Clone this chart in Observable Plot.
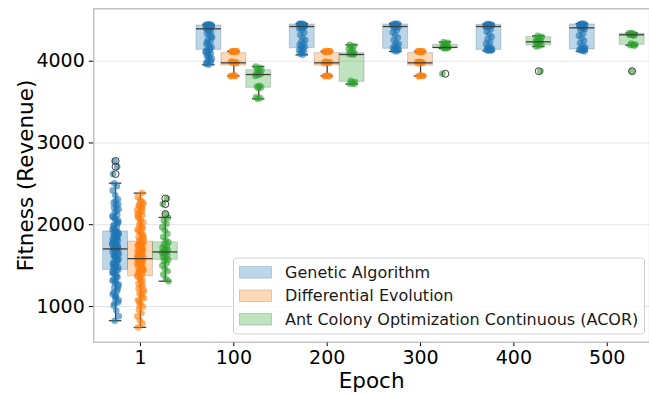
<!DOCTYPE html>
<html><head><meta charset="utf-8">
<script src="https://cdn.jsdelivr.net/npm/d3@7"></script>
<script src="https://cdn.jsdelivr.net/npm/@observablehq/plot@0.6"></script>
<style>
html,body{margin:0;padding:0;background:#fff;overflow:hidden}
#chart svg{display:block;font-family:"DejaVu Sans",sans-serif}
#chart [aria-label="y-axis label"] text,#chart [aria-label="x-axis label"] text{font-size:21.5px}
</style></head><body><div id="chart"></div>
<script>
// ---- categories ----
const epochs = ["1", "100", "200", "300", "400", "500"];
const algorithms = ["Genetic Algorithm", "Differential Evolution", "Ant Colony Optimization Continuous (ACOR)"];
const colors = ["#1f77b4", "#ff7f0e", "#2ca02c"];
const yTicks = [1000, 2000, 3000, 4000];

// ---- box statistics per epoch: [lowWhisker, q1, median, q3, highWhisker] ----
const gaBox = [
  [826, 1447, 1704, 1918, 2508],
  [3956, 4139, 4396, 4437, 4450],
  [4078, 4159, 4424, 4449, 4460],
  [4119, 4152, 4424, 4449, 4460],
  [4127, 4139, 4424, 4445, 4455],
  [4122, 4143, 4408, 4449, 4460]
];
const deBox = [
  [744, 1370, 1585, 1793, 2387],
  [3820, 3947, 3980, 4098, 4120],
  [3820, 3947, 3980, 4098, 4120],
  [3820, 3947, 3980, 4098, 4120],
  null,
  null
];
const acorBox = [
  [1309, 1570, 1667, 1784, 2089],
  [3540, 3675, 3837, 3890, 3935],
  [3720, 3748, 4082, 4098, 4200],
  [4155, 4164, 4168, 4200, 4235],
  [4180, 4192, 4237, 4294, 4310],
  [4195, 4200, 4323, 4335, 4345]
];

// ---- outliers per epoch ----
const gaOutliers = [[2620, 2710, 2780], [], [], [], [], []];
const deOutliers = [[], [], [], [], [], []];
const acorOutliers = [[2130, 2252, 2321], [], [], [3846], [3878], [3878]];

// ---- individual fitness values per epoch (non-outliers) ----
const gaPoints = [
  [826, 880, 950, 1010, 1050, 1100, 1150, 1190, 1230, 1270, 1300, 1330, 1360, 1390, 1420, 1440,
   1460, 1480, 1500, 1520, 1540, 1560, 1580, 1600, 1620, 1640, 1655, 1670, 1680, 1690, 1700, 1705,
   1715, 1730, 1745, 1760, 1775, 1790, 1805, 1820, 1835, 1850, 1865, 1880, 1890, 1900, 1910, 1918,
   1940, 1970, 2000, 2030, 2060, 2090, 2120, 2150, 2190, 2230, 2270, 2310, 2360, 2420, 2470, 2508,
   1250, 1350, 1480, 1560, 1620, 1760, 1840, 1950, 2050, 1120, 1410, 1690,
   1035, 1075, 1125, 1170, 1210, 1285, 1315, 1375, 1405, 1450, 1490, 1530, 1570, 1610, 1645, 1665,
   1710, 1740, 1770, 1800, 1830, 1860, 1895, 1925, 1985, 2015, 2075, 2105, 2170, 2210, 2250, 2290],
  [3956, 3970, 3990, 4010, 4030, 4050, 4070, 4090, 4105, 4120, 4135, 4150, 4170, 4190, 4215, 4240,
   4265, 4290, 4315, 4340, 4360, 4380, 4396, 4405, 4412, 4418, 4422, 4426, 4430, 4433, 4436, 4438,
   4440, 4442, 4444, 4446, 4448, 4450, 4425, 4415, 3980, 4000, 4060, 4110, 4160, 4230, 4300, 4370],
  [4078, 4090, 4105, 4120, 4135, 4150, 4160, 4175, 4190, 4205, 4220, 4240, 4260, 4290, 4320, 4350,
   4380, 4400, 4415, 4424, 4430, 4435, 4440, 4444, 4448, 4452, 4456, 4460, 4438, 4445, 4450, 4420, 4410],
  [4119, 4128, 4138, 4150, 4160, 4175, 4190, 4210, 4230, 4260, 4290, 4320, 4350, 4380, 4400, 4415,
   4424, 4430, 4436, 4440, 4444, 4448, 4452, 4456, 4460, 4445, 4435, 4150, 4140, 4420],
  [4127, 4132, 4138, 4145, 4155, 4170, 4190, 4215, 4240, 4270, 4300, 4330, 4360, 4390, 4410, 4424,
   4430, 4436, 4440, 4444, 4448, 4452, 4455, 4440, 4435, 4135, 4142, 4150, 4420, 4428],
  [4122, 4130, 4138, 4145, 4155, 4170, 4195, 4220, 4250, 4280, 4310, 4340, 4370, 4395, 4408, 4418,
   4428, 4436, 4442, 4447, 4452, 4456, 4460, 4440, 4130, 4140, 4150, 4415, 4445, 4400]
];
const dePoints = [
  [744, 790, 830, 880, 920, 960, 1000, 1040, 1080, 1120, 1160, 1200, 1240, 1280, 1320, 1350,
   1380, 1400, 1420, 1440, 1460, 1480, 1500, 1515, 1530, 1545, 1555, 1565, 1575, 1580, 1585, 1590,
   1600, 1615, 1630, 1645, 1660, 1675, 1690, 1705, 1720, 1735, 1750, 1765, 1780, 1793,
   1820, 1850, 1880, 1910, 1940, 1970, 2000, 2030, 2060, 2090, 2120, 2150, 2180, 2210, 2240, 2270,
   2300, 2340, 2387, 1060, 1180, 1300, 1410, 1470, 1520, 1610, 1700, 1760, 1860, 1990, 2100, 2200,
   1010, 1100, 1140, 1220, 1260, 1335, 1365, 1390, 1430, 1450, 1490, 1510, 1540, 1560, 1595, 1620,
   1655, 1685, 1715, 1745, 1775, 1805, 1835, 1895, 1925, 1955, 2045, 2135, 2165, 2225, 2255, 2285],
  [4125, 4120, 4118, 4115, 4122, 4112, 4120, 4117, 3995, 3990, 3985, 3992, 3980, 3988, 3975, 3983,
   3822, 3818, 3820, 3815, 3824],
  [4124, 4121, 4116, 4114, 4120, 4113, 4119, 4118, 3996, 3989, 3984, 3991, 3979, 3987, 3976, 3982,
   3821, 3817, 3823, 3816, 3820],
  [4123, 4119, 4117, 4115, 4121, 4111, 4122, 4116, 3994, 3991, 3986, 3990, 3981, 3989, 3974, 3984,
   3820, 3819, 3822, 3816, 3823],
  [],
  []
];
const acorPoints = [
  [1309, 1340, 1390, 1430, 1460, 1500, 1530, 1555, 1570, 1590, 1610, 1630, 1645, 1660, 1667, 1675,
   1690, 1705, 1720, 1740, 1760, 1784, 1810, 1850, 1890, 1930, 1970, 2010, 2050, 2089],
  [3935, 3920, 3905, 3890, 3870, 3850, 3840, 3830, 3820, 3700, 3690, 3680, 3670, 3560, 3550, 3540],
  [4200, 4185, 4170, 4150, 4130, 4110, 4098, 4090, 4085, 4080, 3760, 3745, 3735, 3725, 3720],
  [4235, 4225, 4215, 4205, 4200, 4185, 4170, 4168, 4165, 4160, 4155],
  [4310, 4300, 4290, 4280, 4260, 4245, 4237, 4230, 4215, 4200, 4190, 4180],
  [4345, 4340, 4335, 4330, 4325, 4323, 4320, 4310, 4215, 4205, 4200, 4195, 4190]
];

// ---- build tables ----
const hueWidth = 0.8 / algorithms.length;
const offsets = algorithms.map((_, k) => (k - 1) * hueWidth);
const pointSets = [gaPoints, dePoints, acorPoints];
const boxSets = [gaBox, deBox, acorBox];
const outlierSets = [gaOutliers, deOutliers, acorOutliers];
const jitter = j => ((((j * 0.6180339887) + 0.37) % 1) - 0.5) * 2 * 0.036;

const points = [], boxes = [], fliers = [];
algorithms.forEach((alg, k) => {
  epochs.forEach((ep, i) => {
    const xc = i + offsets[k];
    const vals = (pointSets[k][i] || []).concat(outlierSets[k][i] || []);
    vals.forEach((v, j) => points.push({alg, x: xc + jitter(j + 11 * k + 5 * i), y: v}));
    (outlierSets[k][i] || []).forEach(v => fliers.push({alg, x: xc, y: v}));
    const b = boxSets[k][i];
    if (b) boxes.push({alg, xc, x1: xc - hueWidth / 2, x2: xc + hueWidth / 2,
      c1: xc - hueWidth / 4, c2: xc + hueWidth / 4,
      low: b[0], q1: b[1], med: b[2], q3: b[3], high: b[4]});
  });
});

const dark = "#3d3d3d";
const plot = Plot.plot({
  width: 649, height: 394,
  marginLeft: 93.3, marginRight: 0, marginTop: 8.3, marginBottom: 52.3,
  x: {domain: [-0.5, 5.5], range: [93.3, 653.4]},
  y: {domain: [563, 4641]},
  color: {domain: algorithms, range: colors},
  style: {fontFamily: "DejaVu Sans", background: "white", overflow: "hidden"},
  marks: [
    Plot.gridY(yTicks, {stroke: "#e4e4e4", strokeOpacity: 1, strokeWidth: 1}),
    Plot.rect(boxes, {x1: "x1", x2: "x2", y1: "q1", y2: "q3", fill: "alg", fillOpacity: 0.3, stroke: "#555", strokeOpacity: 0.25, strokeWidth: 1}),
    Plot.ruleX(boxes, {x: "xc", y1: "q3", y2: "high", stroke: dark, strokeWidth: 1.3}),
    Plot.ruleX(boxes, {x: "xc", y1: "low", y2: "q1", stroke: dark, strokeWidth: 1.3}),
    Plot.ruleY(boxes, {y: "high", x1: "c1", x2: "c2", stroke: dark, strokeWidth: 1.3}),
    Plot.ruleY(boxes, {y: "low", x1: "c1", x2: "c2", stroke: dark, strokeWidth: 1.3}),
    Plot.dot(points, {x: "x", y: "y", fill: "alg", r: 3.3, fillOpacity: 0.6}),
    Plot.dot(fliers, {x: "x", y: "y", r: 3.5, stroke: dark, fill: "none", strokeWidth: 1}),
    Plot.ruleY(boxes, {y: "med", x1: "x1", x2: "x2", stroke: dark, strokeWidth: 1.3}),
    Plot.axisY({ticks: yTicks, tickFormat: d => String(d), tickSize: 4.5, tickPadding: 4.5, fontSize: 19, label: "Fitness (Revenue)", labelAnchor: "center", labelArrow: "none", labelOffset: 76}),
    Plot.axisX({ticks: [0, 1, 2, 3, 4, 5], tickFormat: i => epochs[i], tickSize: 4.5, tickPadding: 4, fontSize: 19, label: "Epoch", labelAnchor: "center", labelArrow: "none", labelOffset: 46}),
    Plot.frame({stroke: "#b5b5b5", strokeWidth: 1.2})
  ]
});
document.getElementById("chart").appendChild(plot);

// ---- legend ----
const svg = d3.select(plot);
const lg = svg.append("g").attr("font-family", "DejaVu Sans").attr("font-size", 16).attr("text-anchor", "start");
lg.append("rect").attr("x", 233.5).attr("y", 258).attr("width", 411).attr("height", 76).attr("rx", 3)
  .attr("fill", "white").attr("fill-opacity", 0.8).attr("stroke", "#d0d0d0");
algorithms.forEach((a, k) => {
  const cy = 272.3 + k * 23.5;
  lg.append("rect").attr("x", 239.5).attr("y", cy - 5.8).attr("width", 32).attr("height", 11.6)
    .attr("fill", colors[k]).attr("fill-opacity", 0.3).attr("stroke", "#555").attr("stroke-opacity", 0.25);
  lg.append("text").attr("x", 285).attr("y", cy).attr("dy", "0.35em").attr("fill", "#1a1a1a")
    .attr("text-anchor", "start").text(a);
});
</script></body></html>
